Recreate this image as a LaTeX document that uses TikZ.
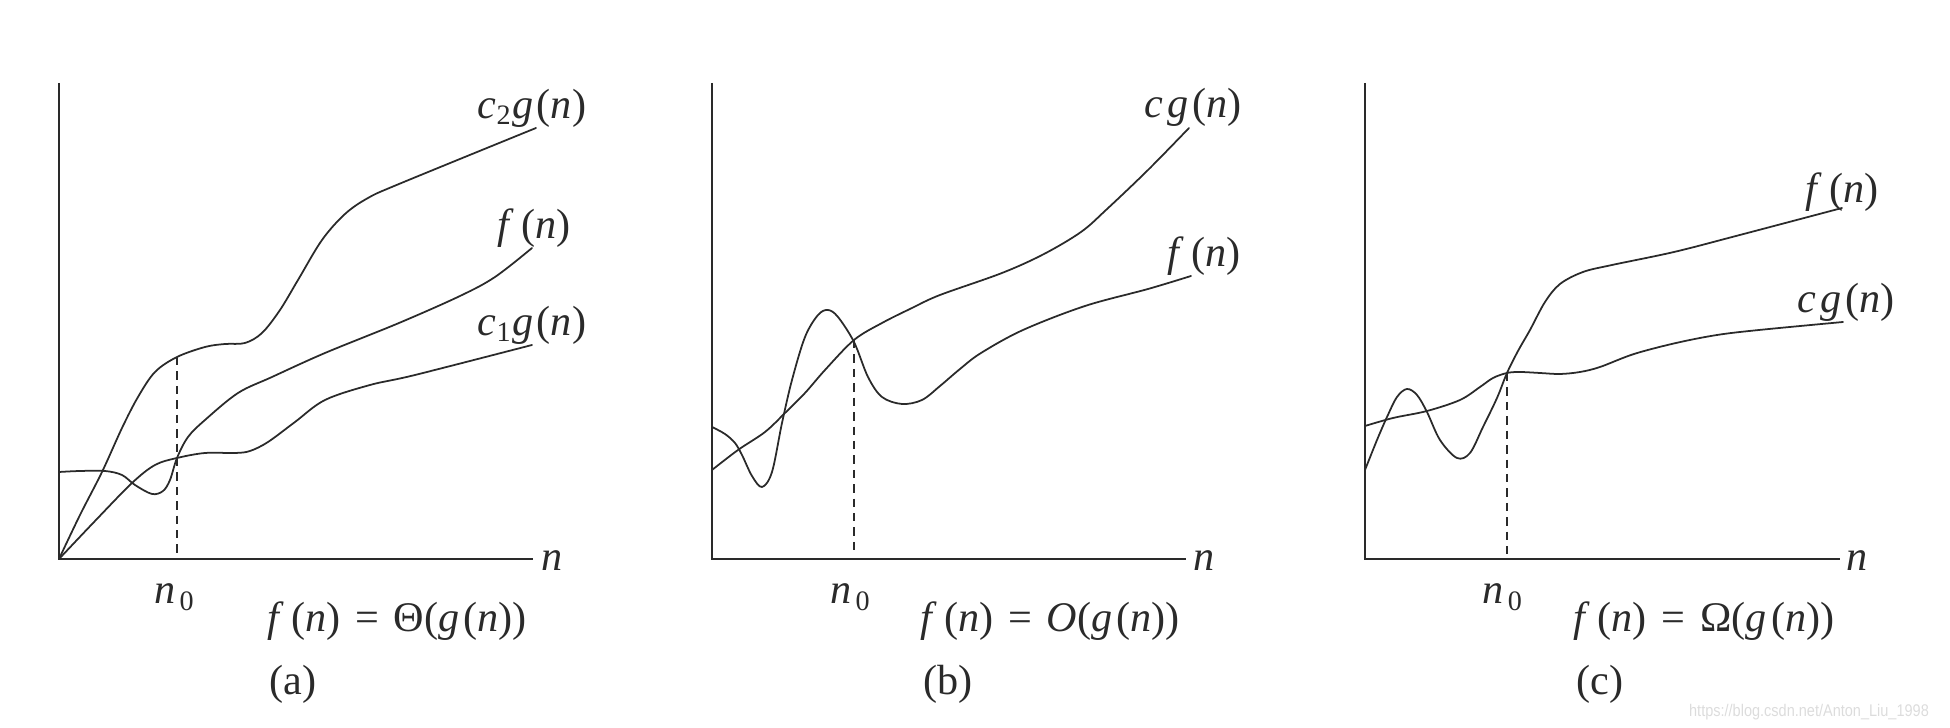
\documentclass[tikz,border=0pt]{standalone}
\usepackage{fontspec}
\setmainfont{Liberation Serif}
\newfontfamily\wmfont{Liberation Sans}
\newcommand\mvar[1]{\textit{#1}}
\definecolor{ink}{HTML}{2A2A2A}
\definecolor{wm}{HTML}{DCDCDC}
\begin{document}
\begin{tikzpicture}[x=0.01cm,y=-0.01cm,
  axisline/.style={draw=ink,line width=0.7pt},
  curve/.style={draw=ink,line width=0.5pt,line join=round,line cap=round},
  guide/.style={draw=ink,line width=0.5pt,dash pattern=on 2.4pt off 1.7pt},
  lbl/.style={font=\fontsize{12}{14}\selectfont,text=ink,inner sep=0pt},
  wmark/.style={font=\wmfont\fontsize{4.8}{6}\selectfont,text=wm,inner sep=0pt}]
\useasboundingbox (0,0) rectangle (1950,728);

% ---------------- panel (a) ----------------
\coordinate (aO) at (59,559);
\coordinate (aT) at (59,83);
\coordinate (aX) at (533,559);
\coordinate (aD) at (177,357);
\coordinate (aDb) at (177,559);
\draw[axisline] (aT) -- (aO) -- (aX);
\draw[guide] (aD) -- (aDb);
\draw[curve] plot[smooth,tension=0.55] coordinates {(59,559) (80,515) (102,472) (122,428) (138,397) (155,372) (177,357) (205,347) (225,344) (245,343) (262,333) (280,310) (298,280) (322,240) (345,214) (368,198) (399,184) (536,128)};
\draw[curve] plot[smooth,tension=0.55] coordinates {(59,559) (95,521) (132,483) (155,465) (177,458) (205,453) (235,453) (250,451) (268,442) (295,422) (325,400) (370,385) (415,375) (532,345)};
\draw[curve] plot[smooth,tension=0.55] coordinates {(59,472) (80,471) (105,471) (122,475) (135,485) (152,494) (163,491) (170,480) (177,458) (188,437) (205,420) (238,393) (272,377) (325,353) (399,323) (460,296) (495,277) (532,248)};
\node[lbl] (aL1) at (532,108) {\mvar{c}\textsubscript{2}\mvar{g}\kern0.08em(\mvar{n})};
\node[lbl] (aL2) at (534,228) {\mvar{f}\kern0.18em(\mvar{n})};
\node[lbl] (aL3) at (532,325) {\mvar{c}\textsubscript{1}\mvar{g}\kern0.08em(\mvar{n})};
\node[lbl] (aN) at (552,561) {\mvar{n}};
\node[lbl,anchor=base] (aN0) at (175,604) {\mvar{n}\kern0.1em\textsubscript{0}};
\node[lbl,anchor=base] (aF) at (397,632) {\mvar{f}\kern0.18em(\mvar{n})\hspace{0.35em}=\hspace{0.35em}Θ(\mvar{g}\kern0.1em(\mvar{n}))};
\node[lbl,anchor=base] (aC) at (293,695) {(a)};

% ---------------- panel (b) ----------------
\coordinate (bO) at (712,559);
\coordinate (bT) at (712,83);
\coordinate (bX) at (1186,559);
\coordinate (bD) at (854,340);
\coordinate (bDb) at (854,550);
\draw[axisline] (bT) -- (bO) -- (bX);
\draw[guide] (bD) -- (bDb);
\draw[curve] plot[smooth,tension=0.55] coordinates {(712,470) (738,450) (765,432) (785,413) (805,393) (825,370) (854,340) (882,323) (912,308) (940,295) (1002,273) (1044,254) (1081,232) (1106,210) (1148,170) (1189,128)};
\draw[curve] plot[smooth,tension=0.55] coordinates {(712,427) (725,434) (735,443) (742,455) (752,476) (762,487) (772,472) (782,423) (792,380) (805,337) (818,315) (828,310) (838,317) (854,342) (868,377) (882,397) (902,404) (922,400) (940,386) (960,369) (981,353) (1023,330) (1085,306) (1148,289) (1191,276)};
\node[lbl] (bL1) at (1193,107) {\mvar{c}\kern0.1em\mvar{g}\kern0.08em(\mvar{n})};
\node[lbl] (bL2) at (1204,256) {\mvar{f}\kern0.18em(\mvar{n})};
\node[lbl] (bN) at (1204,561) {\mvar{n}};
\node[lbl,anchor=base] (bN0) at (851,604) {\mvar{n}\kern0.1em\textsubscript{0}};
\node[lbl,anchor=base] (bF) at (1050,632) {\mvar{f}\kern0.18em(\mvar{n})\hspace{0.35em}=\hspace{0.35em}\mvar{O}(\mvar{g}\kern0.1em(\mvar{n}))};
\node[lbl,anchor=base] (bC) at (948,695) {(b)};

% ---------------- panel (c) ----------------
\coordinate (cO) at (1365,559);
\coordinate (cT) at (1365,83);
\coordinate (cX) at (1840,559);
\coordinate (cD) at (1507,373);
\coordinate (cDb) at (1507,559);
\draw[axisline] (cT) -- (cO) -- (cX);
\draw[guide] (cD) -- (cDb);
\draw[curve] plot[smooth,tension=0.55] coordinates {(1365,426) (1393,418) (1427,411) (1460,400) (1480,387) (1493,378) (1507,373) (1520,372) (1540,373) (1560,374) (1580,372) (1600,367) (1634,354) (1676,343) (1717,335) (1759,330) (1843,322)};
\draw[curve] plot[smooth,tension=0.55] coordinates {(1365,470) (1377,440) (1387,417) (1397,397) (1407,389) (1417,395) (1427,412) (1440,440) (1457,458) (1470,453) (1483,427) (1497,398) (1507,373) (1518,351) (1530,330) (1545,302) (1560,284) (1583,272) (1612,265) (1674,252) (1736,236) (1842,208)};
\node[lbl] (cL1) at (1842,192) {\mvar{f}\kern0.18em(\mvar{n})};
\node[lbl] (cL2) at (1846,302) {\mvar{c}\kern0.1em\mvar{g}\kern0.08em(\mvar{n})};
\node[lbl] (cN) at (1857,561) {\mvar{n}};
\node[lbl,anchor=base] (cN0) at (1503,604) {\mvar{n}\kern0.1em\textsubscript{0}};
\node[lbl,anchor=base] (cF) at (1704,632) {\mvar{f}\kern0.18em(\mvar{n})\hspace{0.35em}=\hspace{0.35em}Ω(\mvar{g}\kern0.1em(\mvar{n}))};
\node[lbl,anchor=base] (cC) at (1600,695) {(c)};

\node[wmark] (wmk) at (1809,712) {\scalebox{0.86}[1]{https://blog.csdn.net/Anton\_Liu\_1998}};
\end{tikzpicture}
\end{document}
